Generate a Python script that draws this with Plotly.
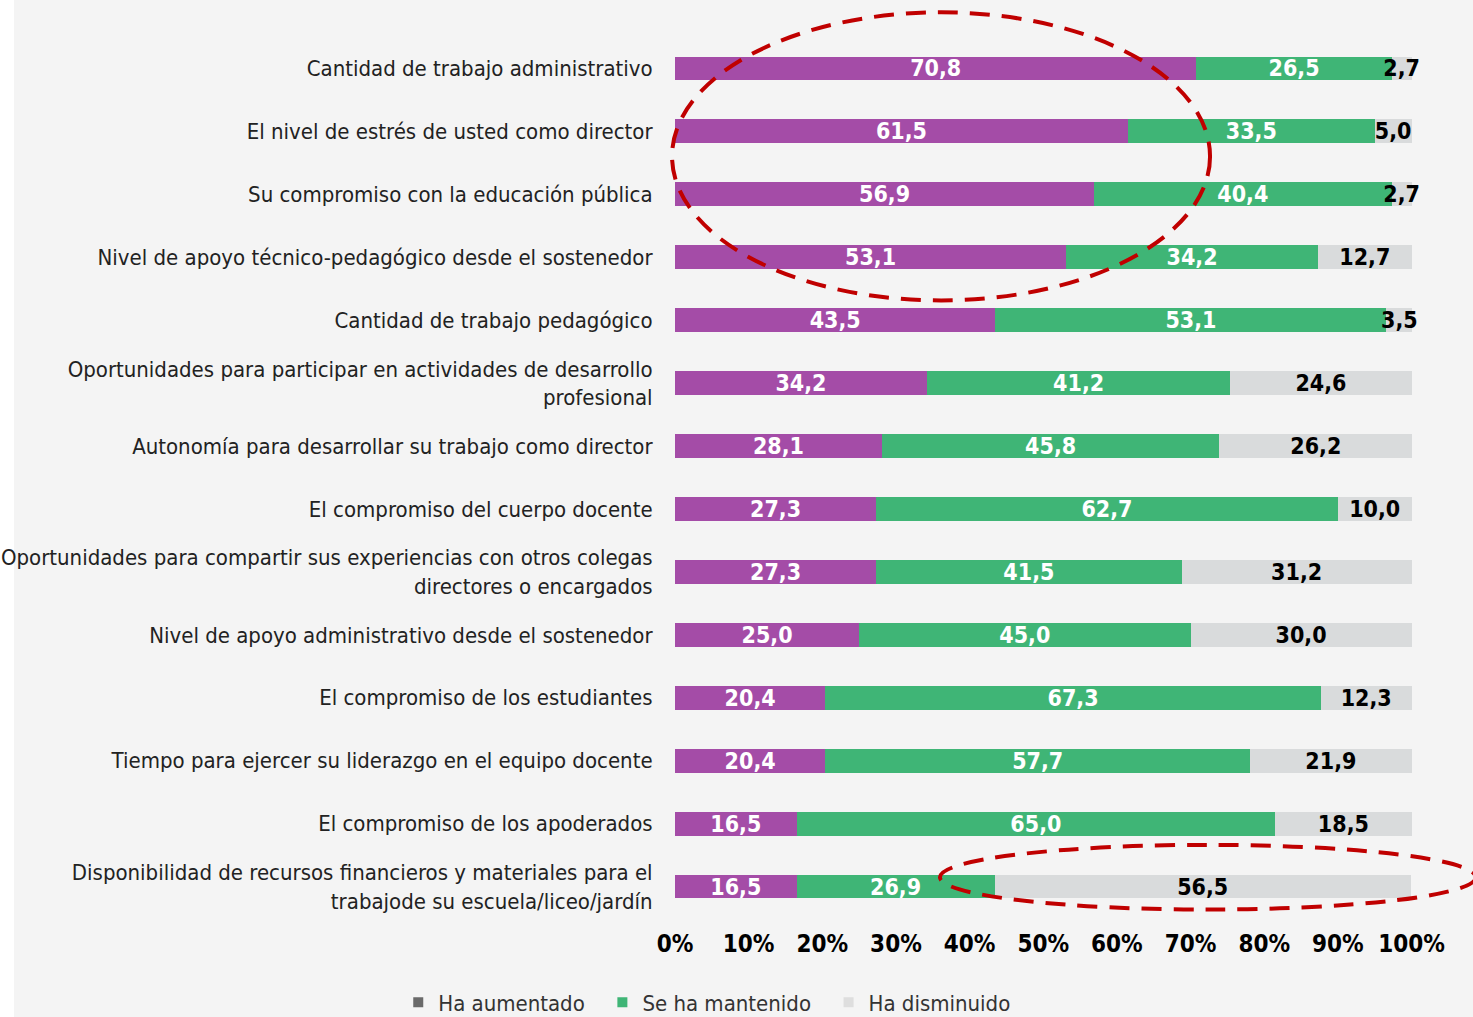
import plotly.graph_objects as go

categories = [
    "Cantidad de trabajo administrativo",
    "El nivel de estrés de usted como director",
    "Su compromiso con la educación pública",
    "Nivel de apoyo técnico-pedagógico desde el sostenedor",
    "Cantidad de trabajo pedagógico",
    "Oportunidades para participar en actividades de desarrollo<br>profesional",
    "Autonomía para desarrollar su trabajo como director",
    "El compromiso del cuerpo docente",
    "Oportunidades para compartir sus experiencias con otros colegas<br>directores o encargados",
    "Nivel de apoyo administrativo desde el sostenedor",
    "El compromiso de los estudiantes",
    "Tiempo para ejercer su liderazgo en el equipo docente",
    "El compromiso de los apoderados",
    "Disponibilidad de recursos financieros y materiales para el<br>trabajode su escuela/liceo/jardín",
]
aumentado = [70.8, 61.5, 56.9, 53.1, 43.5, 34.2, 28.1, 27.3, 27.3, 25.0, 20.4, 20.4, 16.5, 16.5]
mantenido = [26.5, 33.5, 40.4, 34.2, 53.1, 41.2, 45.8, 62.7, 41.5, 45.0, 67.3, 57.7, 65.0, 26.9]
disminuido = [2.7, 5.0, 2.7, 12.7, 3.5, 24.6, 26.2, 10.0, 31.2, 30.0, 12.3, 21.9, 18.5, 56.5]
series_names = ["Ha aumentado", "Se ha mantenido", "Ha disminuido"]
tick_vals = [0, 10, 20, 30, 40, 50, 60, 70, 80, 90, 100]
tick_text = ["0%", "10%", "20%", "30%", "40%", "50%", "60%", "70%", "80%", "90%", "100%"]

FONT = "DejaVu Sans Condensed, DejaVu Sans, sans-serif"
PURPLE = "#a44ca7"
GREEN = "#3fb576"
GRAY = "#d9dbdc"


def fmt(v):
    return f"{v:.1f}".replace(".", ",")


fig = go.Figure()
for vals, name, color, tcolor in [
    (aumentado, series_names[0], PURPLE, "white"),
    (mantenido, series_names[1], GREEN, "white"),
    (disminuido, series_names[2], GRAY, "black"),
]:
    fig.add_trace(go.Bar(
        y=categories, x=vals, orientation="h", name=name,
        marker=dict(color=color, line=dict(width=0)),
        text=[fmt(v) for v in vals], textposition="inside", textangle=0,
        insidetextanchor="middle", constraintext="none", cliponaxis=False,
        insidetextfont=dict(family=FONT, size=23, color=tcolor, weight="bold"),
        showlegend=False, hoverinfo="skip",
    ))

# legend entries (small square swatches as in the original)
for name, color in zip(series_names, ["#6a6a6a", GREEN, "#dedede"]):
    fig.add_trace(go.Scatter(
        x=[None], y=[None], mode="markers", name=name + "\u00a0\u00a0",
        marker=dict(symbol="square", size=10, color=color),
        showlegend=True, hoverinfo="skip",
    ))

fig.update_layout(
    width=1473, height=1017,
    margin=dict(l=675, r=60, t=37, b=99, autoexpand=False),
    barmode="stack", bargap=0.62,
    paper_bgcolor="#f4f4f4", plot_bgcolor="rgba(0,0,0,0)",
    font=dict(family=FONT, color="#222222"),
    xaxis=dict(range=[0, 100.2], tickvals=tick_vals, ticktext=tick_text,
               showgrid=False, zeroline=False, showline=False, automargin=False,
               tickfont=dict(family=FONT, size=24, color="black", weight="bold"),
               ticks="outside", ticklen=4, tickcolor="rgba(0,0,0,0)"),
    yaxis=dict(autorange="reversed", showgrid=False, showline=False, automargin=False,
               tickfont=dict(family=FONT, size=22, color="#222222"),
               ticks="outside", ticklen=17, tickcolor="rgba(0,0,0,0)"),
    legend=dict(orientation="h", x=-0.375, xanchor="left", y=-0.0958, yanchor="middle",
                traceorder="normal",
                font=dict(family=FONT, size=22, color="#333333"),
                itemwidth=30, bgcolor="rgba(0,0,0,0)"),
    shapes=[
        dict(type="rect", xref="paper", yref="paper", x0=-675 / 738, x1=(14 - 675) / 738,
             y0=-99 / 882, y1=(882 + 37) / 882, fillcolor="white", line=dict(width=0), layer="below"),
        dict(type="circle", xref="paper", yref="paper", x0=-0.004, x1=0.725, y0=0.701, y1=1.028,
             line=dict(color="#c00000", width=4, dash="20px,12px")),
        dict(type="circle", xref="paper", yref="paper", x0=0.359, x1=1.085, y0=0.0096, y1=0.083,
             line=dict(color="#c00000", width=4, dash="20px,12px")),
    ],
)

fig.write_html(
    "out.html",
    config={"displayModeBar": False},
    post_script="document.body.style.margin='0';document.body.style.overflow='hidden';",
)
